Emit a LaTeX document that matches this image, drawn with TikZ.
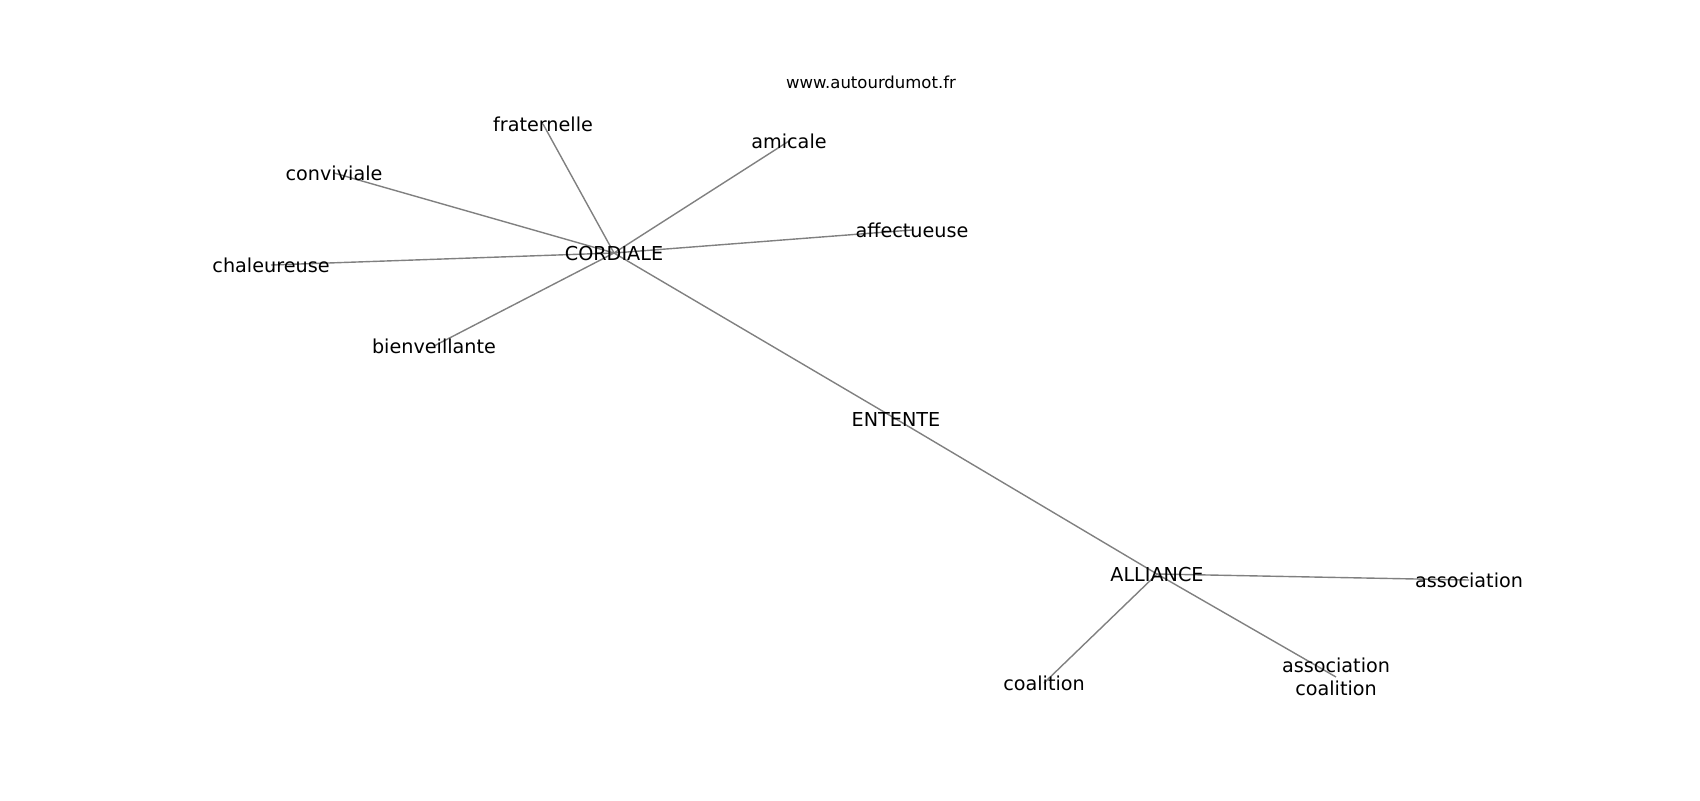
\documentclass[tikz,border=0pt]{standalone}
\usepackage{fontspec}
\setmainfont{DejaVu Sans}
\usetikzlibrary{backgrounds}

\begin{document}
\begin{tikzpicture}[x=0.5pt, y=-0.5pt,
	every node/.style={font=\fontsize{9.6}{11.5}\selectfont, inner sep=0pt},
	edge/.style={draw=gray, line width=0.7pt}]
	
	%//picture frame, in pixels
	\useasboundingbox (0,0) rectangle (1700,800);
	
	\node (site) [font=\fontsize{8.25}{9.9}\selectfont] at (871,82) {www.autourdumot.fr};
	
	%//first group
	\node (cordiale) at (614,253) {CORDIALE};
	\node (fraternelle) at (543,124) {fraternelle};
	\node (amicale) at (789,141) {amicale};
	\node (conviviale) at (334,173) {conviviale};
	\node (affectueuse) at (912,230) {affectueuse};
	\node (chaleureuse) at (271,265) {chaleureuse};
	\node (bienveillante) at (434,346) {bienveillante};
	
	\node (entente) at (896,419) {ENTENTE};
	
	%//second group
	\node (alliance) at (1157,574) {ALLIANCE};
	\node (association) at (1469,580) {association};
	\node (coalition) at (1044,683) {coalition};
	\node (asscoal) [align=center] at (1336,677) {association\\coalition};
	
	\begin{scope}[on background layer]
	\foreach \a/\b in {cordiale/fraternelle, cordiale/amicale, cordiale/conviviale,
		cordiale/affectueuse, cordiale/chaleureuse, cordiale/bienveillante,
		cordiale/entente, entente/alliance,
		alliance/association, alliance/coalition, alliance/asscoal}
	\draw [edge] (\a.center) -- (\b.center);
	\end{scope}
	
\end{tikzpicture}
\end{document}
